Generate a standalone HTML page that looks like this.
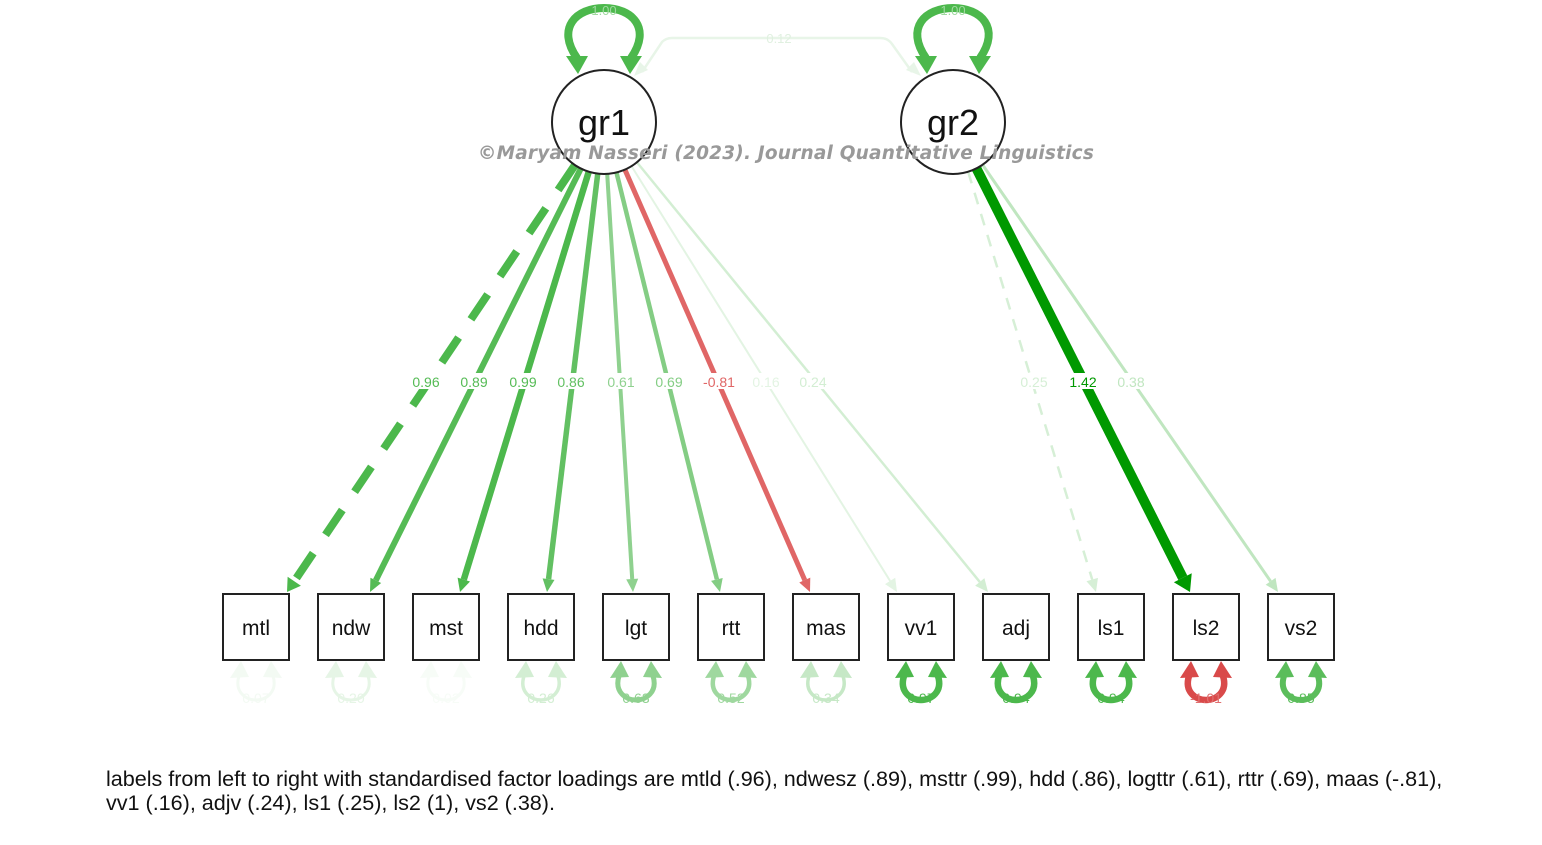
<!DOCTYPE html>
<html><head><meta charset="utf-8"><style>
html,body{margin:0;padding:0;background:#fff;width:1542px;height:845px;overflow:hidden}
svg{position:absolute;left:0;top:0}
.cap{position:absolute;left:106px;top:767px;font:21.6px "Liberation Sans",sans-serif;color:#111;letter-spacing:-0.02px;line-height:24px;white-space:nowrap}
</style></head><body>
<svg id="s" width="1542" height="845" xmlns="http://www.w3.org/2000/svg" font-family="Liberation Sans, sans-serif"></svg>
<div class="cap">labels from left to right with standardised factor loadings are mtld (.96), ndwesz (.89), msttr (.99), hdd (.86), logttr (.61), rttr (.69), maas (-.81),<br>vv1 (.16), adjv (.24), ls1 (.25), ls2 (1), vs2 (.38).</div>
<script>
var s=document.getElementById('s'),h='';
function arrowLine(x1,y1,x2,y2,col,w,dash){
 var dx=x2-x1,dy=y2-y1,L=Math.hypot(dx,dy),ux=dx/L,uy=dy/L,a=Math.max(13,w*1.6),b=Math.max(6,w*1.0);
 var bx=x2-ux*a,by=y2-uy*a;
 h+='<line x1="'+x1+'" y1="'+y1+'" x2="'+bx+'" y2="'+by+'" stroke="'+col+'" stroke-width="'+w+'"'+(dash?' stroke-dasharray="'+dash+'"':'')+'/>';
 h+='<polygon points="'+x2+','+y2+' '+(bx-uy*b)+','+(by+ux*b)+' '+(bx+uy*b)+','+(by-ux*b)+'" fill="'+col+'"/>';
}
function load(cx,tx,col,w,dash){var cy=122,ty=592,dx=tx-cx,dy=ty-cy,L=Math.hypot(dx,dy);arrowLine(cx+dx/L*52,cy+dy/L*52,tx,ty,col,w,dash);}
h+='<path d="M642,72 L662,42 Q666,38 672,38 L880,38 Q888,38 892,44 L912,72" fill="none" stroke="#e8f5e8" stroke-width="2.5"/>';
h+='<polygon points="634,76 640,62 648,70" fill="#e8f5e8"/><polygon points="921,76 914,62 906,70" fill="#e8f5e8"/>';
h+='<text x="779" y="43" font-size="13" fill="#e0f0e0" text-anchor="middle">0.12</text>';
function selfloop(cx){h+='<path d="M'+(cx-27)+',58 C'+(cx-48)+',28 '+(cx-28)+',8 '+cx+',8 C'+(cx+28)+',8 '+(cx+48)+',28 '+(cx+27)+',58" fill="none" stroke="#4cb84c" stroke-width="8"/>';
h+='<polygon points="'+(cx-26)+',74 '+(cx-38)+',56 '+(cx-16)+',56" fill="#4cb84c"/><polygon points="'+(cx+26)+',74 '+(cx+38)+',56 '+(cx+16)+',56" fill="#4cb84c"/>';
h+='<text x="'+cx+'" y="15" font-size="13" fill="#9fd99f" text-anchor="middle">1.00</text>';}
selfloop(604);selfloop(953);
load(604,287,'#4cb84c',8,'30 22');
load(604,370,'#55bb55',6);
load(604,460,'#4cb84c',6.5);
load(604,547,'#62c062',5.5);
load(604,633,'#8fd18f',4);
load(604,720,'#84cd84',4.5);
load(604,810,'#e06666',5);
load(604,897,'#e3f4e3',2);
load(604,988,'#d3eed3',2.5);
load(953,1096,'#d6efd6',2.5,'12 10');
load(953,1190,'#009900',10);
load(953,1278,'#c0e6c0',3);
h+='<circle cx="604" cy="122" r="52" fill="#fff" stroke="#222" stroke-width="2"/><text x="604" y="135" font-size="36" text-anchor="middle" fill="#111">gr1</text>';
h+='<circle cx="953" cy="122" r="52" fill="#fff" stroke="#222" stroke-width="2"/><text x="953" y="135" font-size="36" text-anchor="middle" fill="#111">gr2</text>';
h+='<text x="786" y="159" font-size="18.5" font-weight="bold" font-style="italic" fill="#999" text-anchor="middle" font-family="DejaVu Sans, sans-serif" letter-spacing="0.2">©Maryam Nasseri (2023). Journal Quantitative Linguistics</text>';
var L=[[426,'0.96','#55bb55'],[474,'0.89','#55bb55'],[523,'0.99','#55bb55'],[571,'0.86','#62c062'],[621,'0.61','#8fd18f'],[669,'0.69','#84cd84'],[719,'-0.81','#e06666'],[766,'0.16','#e3f4e3'],[813,'0.24','#d3eed3'],[1034,'0.25','#d6efd6'],[1083,'1.42','#009900'],[1131,'0.38','#c0e6c0']];
L.forEach(function(l){h+='<rect x="'+(l[0]-16)+'" y="373" width="32" height="16" fill="#fff"/><text x="'+l[0]+'" y="387" font-size="14" text-anchor="middle" fill="'+l[2]+'">'+l[1]+'</text>';});
var B=[[256,'mtl','0.07','#f3faf3',3],[351,'ndw','0.20','#e6f5e6',3],[446,'mst','0.02','#f7fcf7',3],[541,'hdd','0.26','#d3eed3',3.5],[636,'lgt','0.63','#8fd18f',5],[731,'rtt','0.52','#9fd89f',4.5],[826,'mas','0.34','#c6e8c6',3.5],[921,'vv1','0.97','#4cb84c',6.5],[1016,'adj','0.94','#4cb84c',6.5],[1111,'ls1','0.94','#4cb84c',6.5],[1206,'ls2','-1.01','#d94a4a',6.5],[1301,'vs2','0.85','#5bbd5b',6]];
B.forEach(function(b){var c=b[0],col=b[3],w=b[4];
 h+='<path d="M'+(c-17)+',676 C'+(c-22)+',692 '+(c-10)+',700 '+c+',700 C'+(c+10)+',700 '+(c+22)+',692 '+(c+17)+',676" fill="none" stroke="'+col+'" stroke-width="'+w+'"/>';
 h+='<polygon points="'+(c-15)+',661 '+(c-26)+',678 '+(c-7)+',677" fill="'+col+'"/><polygon points="'+(c+15)+',661 '+(c+26)+',678 '+(c+7)+',677" fill="'+col+'"/>';
 h+='<text x="'+c+'" y="703" font-size="14" text-anchor="middle" fill="'+(b[2]=='-1.01'?'#e07070':col)+'">'+b[2]+'</text>';
 h+='<rect x="'+(c-33)+'" y="594" width="66" height="66" fill="#fff" stroke="#222" stroke-width="2"/>';
 h+='<text x="'+c+'" y="635" font-size="21" text-anchor="middle" fill="#111">'+b[1]+'</text>';});
s.innerHTML=h;
</script>
</body></html>
